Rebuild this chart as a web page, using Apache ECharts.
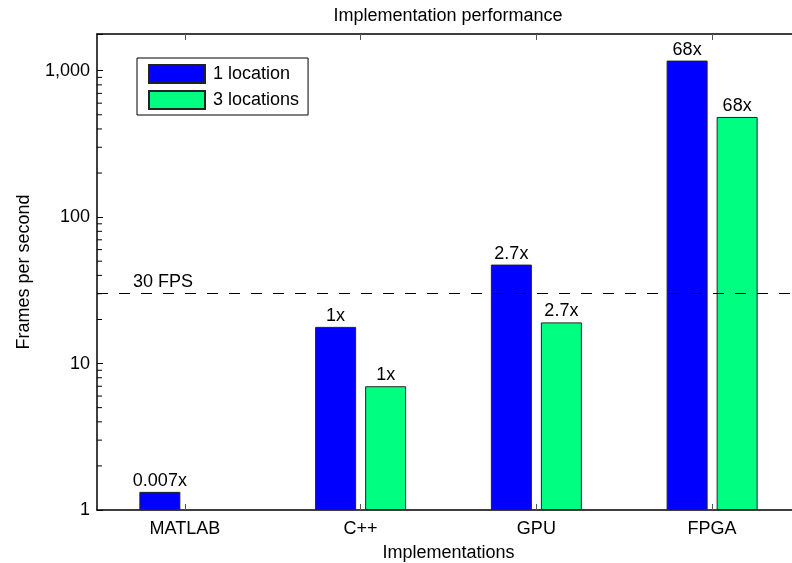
<!DOCTYPE html>
<html>
<head>
<meta charset="utf-8">
<script src="https://cdn.jsdelivr.net/npm/echarts@6/dist/echarts.min.js"></script>
<style>html,body{margin:0;padding:0;background:#fff}#c{width:792px;height:563px}</style>
</head>
<body>
<div id="c"></div>
<script>
// ---- data ----
const categories = ['MATLAB', 'C++', 'GPU', 'FPGA'];
const seriesNames = ['1 location', '3 locations'];
const oneLocation = [1.33, 17.8, 47.4, 1172];
const threeLocations = [null, 7.0, 19.1, 483];
const oneLocationLabels = ['0.007x', '1x', '2.7x', '68x'];
const threeLocationLabels = ['', '1x', '2.7x', '68x'];
const fpsTarget = 30;
const fpsLabel = '30 FPS';
const yMin = 1;
const yMax = 1780;
const minorTickValues = [2,3,4,5,6,7,8,9,20,30,40,50,60,70,80,90,200,300,400,500,600,700,800,900];

const FONT = 'Liberation Sans, Arial, Helvetica, sans-serif';
const FS = 18;

function fmt(v) {
  const l = Math.log10(v);
  if (Math.abs(l - Math.round(l)) > 1e-6) return '';
  return String(Math.round(v)).replace(/\B(?=(\d{3})+(?!\d))/g, ',');
}

const chart = echarts.init(document.getElementById('c'), null, {renderer: 'canvas'});
chart.setOption({
  animation: false,
  backgroundColor: '#fff',
  textStyle: {fontFamily: FONT},
  title: {
    text: 'Implementation performance',
    left: 448, top: 7, textAlign: 'center', padding: 0,
    textStyle: {fontFamily: FONT, fontSize: FS, fontWeight: 'normal', color: '#000'}
  },
  legend: {
    orient: 'vertical',
    left: 137, top: 58,
    padding: [6, 9, 5, 11],
    itemGap: 6,
    itemWidth: 56, itemHeight: 18,
    icon: 'rect',
    borderColor: '#000', borderWidth: 1,
    backgroundColor: '#fff',
    data: seriesNames,
    textStyle: {fontFamily: FONT, fontSize: FS, color: '#000', padding: [0, 0, 0, 3]}
  },
  grid: {left: 97, top: 34, width: 703, height: 476, containLabel: false, outerBoundsMode: 'none', show: false},
  xAxis: [
    {
      type: 'category', data: categories, position: 'bottom',
      name: 'Implementations', nameLocation: 'middle', nameGap: 34,
      nameTextStyle: {fontFamily: FONT, fontSize: FS, color: '#000'},
      axisLine: {show: true, lineStyle: {color: '#000', width: 1.5}},
      axisTick: {show: true, inside: true, alignWithLabel: true, length: 6, lineStyle: {color: '#555'}},
      axisLabel: {fontFamily: FONT, fontSize: FS, color: '#000', margin: 10},
      splitLine: {show: false}
    },
    {
      type: 'category', data: categories, position: 'top',
      axisLine: {show: true, lineStyle: {color: '#000', width: 1.5}},
      axisTick: {show: true, inside: true, alignWithLabel: true, length: 6, lineStyle: {color: '#555'}},
      axisLabel: {show: false},
      splitLine: {show: false}
    },
    {
      type: 'value', min: 0, max: 1, show: false
    }
  ],
  yAxis: [{
    type: 'log', logBase: 10, min: yMin, max: yMax,
    name: 'Frames per second', nameLocation: 'middle', nameGap: 64,
    nameTextStyle: {fontFamily: FONT, fontSize: FS, color: '#000'},
    axisLine: {show: true, lineStyle: {color: '#000', width: 1.5}},
    axisTick: {show: true, inside: true, length: 6, lineStyle: {color: '#000'}},
    axisLabel: {fontFamily: FONT, fontSize: FS, color: '#000', margin: 7, formatter: fmt},
    splitLine: {show: false},
    minorTick: {show: false}
  }],
  series: [
    {
      name: seriesNames[0], type: 'bar', xAxisIndex: 0, yAxisIndex: 0,
      barWidth: 41, barGap: '22%',
      data: oneLocation,
      itemStyle: {color: '#0000ff', borderColor: '#222', borderWidth: 1},
      label: {
        show: true, position: 'top', distance: 2,
        fontFamily: FONT, fontSize: FS, color: '#000',
        formatter: p => oneLocationLabels[p.dataIndex]
      },
      markLine: {
        silent: true, symbol: 'none',
        lineStyle: {color: '#000', width: 1, type: [11, 11]},
        label: {
          show: true, position: 'insideStartTop', distance: [36, 3],
          fontFamily: FONT, fontSize: FS, color: '#000',
          formatter: fpsLabel
        },
        data: [{yAxis: fpsTarget}]
      },
      z: 2
    },
    {
      name: seriesNames[1], type: 'bar', xAxisIndex: 0, yAxisIndex: 0,
      barWidth: 41, barGap: '22%',
      data: threeLocations,
      itemStyle: {color: '#00ff80', borderColor: '#222', borderWidth: 1},
      label: {
        show: true, position: 'top', distance: 2,
        fontFamily: FONT, fontSize: FS, color: '#000',
        formatter: p => threeLocationLabels[p.dataIndex]
      },
      z: 2
    },
    {
      name: 'minor', type: 'scatter', xAxisIndex: 2, yAxisIndex: 0,
      data: minorTickValues.map(v => [0, v]),
      symbol: 'rect', symbolSize: [5, 1], symbolOffset: [2.5, 0],
      clip: false,
      itemStyle: {color: '#000', opacity: 1}, silent: true, z: 10
    }
  ]
});
</script>
</body>
</html>
